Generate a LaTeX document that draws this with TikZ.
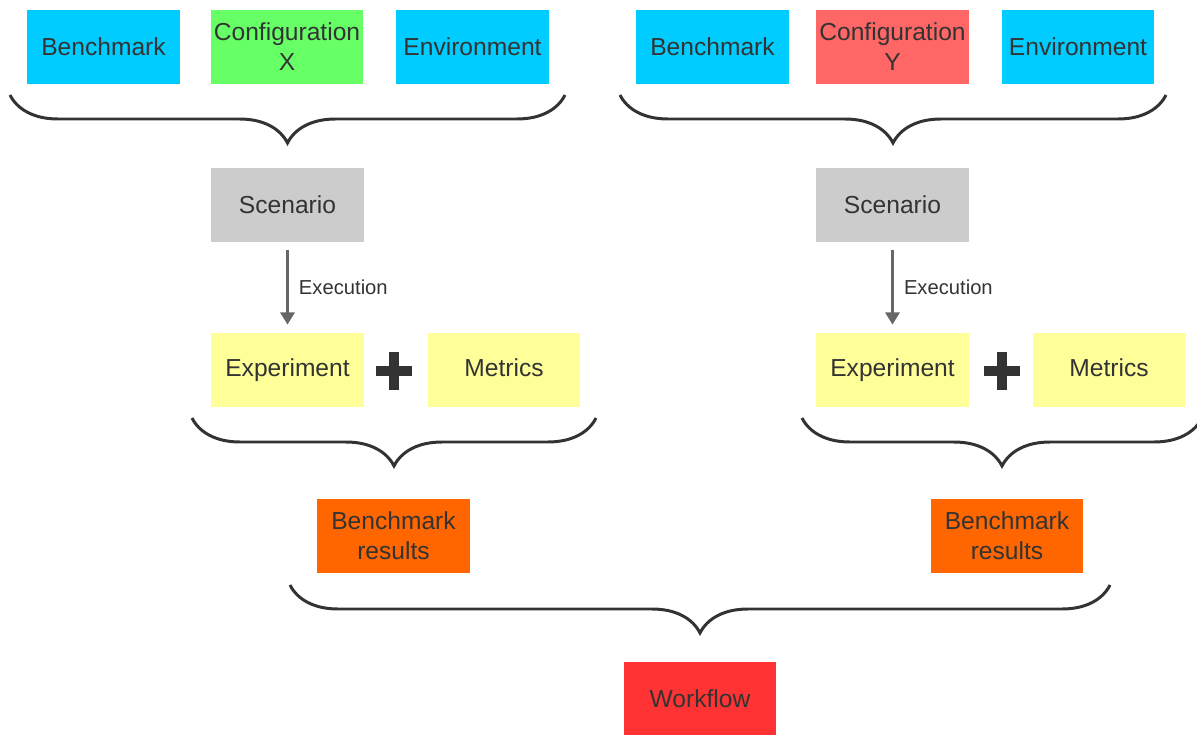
\documentclass[tikz,border=0pt]{standalone}
\usepackage{fontspec}
\setmainfont{Liberation Sans}
\usepackage{tikz}
\usetikzlibrary{positioning, calc, arrows.meta, decorations.pathreplacing}
\usepackage{xcolor}

\definecolor{boxcyan}{HTML}{00CCFF}
\definecolor{boxgreen}{HTML}{66FF66}
\definecolor{boxsalmon}{HTML}{FF6666}
\definecolor{boxgrey}{HTML}{CCCCCC}
\definecolor{boxyellow}{HTML}{FFFF99}
\definecolor{boxorange}{HTML}{FF6600}
\definecolor{boxred}{HTML}{FF3333}
\definecolor{inkgrey}{HTML}{333333}

\begin{document}
\begin{tikzpicture}[
                  x=0.02cm, y=-0.02cm,
                  every node/.style={font=\fontsize{14}{17}\selectfont, text=inkgrey,
                              inner sep=0pt, minimum width=3.06cm, minimum height=1.48cm,
                              align=center},
                  input/.style={fill=boxcyan},
                  confx/.style={fill=boxgreen},
                  confy/.style={fill=boxsalmon},
                  scen/.style={fill=boxgrey},
                  run/.style={fill=boxyellow, text height=10pt, text depth=3pt},
                  result/.style={fill=boxorange},
                  flow/.style={fill=boxred},
                  label/.style={font=\fontsize{11.5}{14}\selectfont, minimum width=0pt,
                              minimum height=0pt, anchor=west},
                  brace/.style={draw=inkgrey, line width=1.7pt,
                              decorate, decoration={brace, mirror, amplitude=0.96cm}},
                  exec/.style={draw=black!60, line width=1.7pt, -{Triangle[length=7pt, width=8pt]},
                              shorten <=0.16cm, shorten >=0.16cm},
                  cross/.style={draw=inkgrey, line width=0.2cm},
            ]
            \useasboundingbox (0,0) rectangle (1197,734);

            % branch X
            \node[input] (benchx) at (103.5,47) {Benchmark};
            \node[confx] (confx) at (287,47) {Configuration\\X};
            \node[input] (envx) at (472.5,47) {Environment};
            \draw[brace] (10,95) -- (565,95);
            \node[scen] (scenx) at (287.5,205) {Scenario};
            \node[run] (expx) at (287.5,370) {Experiment};
            \node[run] (metx) at (504,370) {Metrics};
            \draw[exec] (scenx) -- (expx) node[label, midway, xshift=0.2cm] (execx) {Execution};
            \coordinate (plusx) at (394,371);
            \draw[cross] ($(plusx)+(-18,0)$) -- ($(plusx)+(18,0)$);
            \draw[cross] ($(plusx)+(0,-19)$) -- ($(plusx)+(0,19)$);
            \draw[brace] (192,418) -- (596,418);
            \node[result] (resx) at (393.5,535.5) {Benchmark\\results};

            % branch Y
            \node[input] (benchy) at (712.5,47) {Benchmark};
            \node[confy] (confy) at (892.5,47) {Configuration\\Y};
            \node[input] (envy) at (1078,47) {Environment};
            \draw[brace] (620,95) -- (1166,95);
            \node[scen] (sceny) at (892.5,205) {Scenario};
            \node[run] (expy) at (892.5,370) {Experiment};
            \node[run] (mety) at (1109,370) {Metrics};
            \draw[exec] (sceny) -- (expy) node[label, midway, xshift=0.2cm] (execy) {Execution};
            \coordinate (plusy) at (1002,371);
            \draw[cross] ($(plusy)+(-18,0)$) -- ($(plusy)+(18,0)$);
            \draw[cross] ($(plusy)+(0,-19)$) -- ($(plusy)+(0,19)$);
            \draw[brace] (802,418) -- (1202,418);
            \node[result] (resy) at (1007,535.5) {Benchmark\\results};

            % workflow
            \draw[brace] (290,585) -- (1110,585);
            \node[flow] (wf) at (700,699) {Workflow};
      \end{tikzpicture}
\end{document}
